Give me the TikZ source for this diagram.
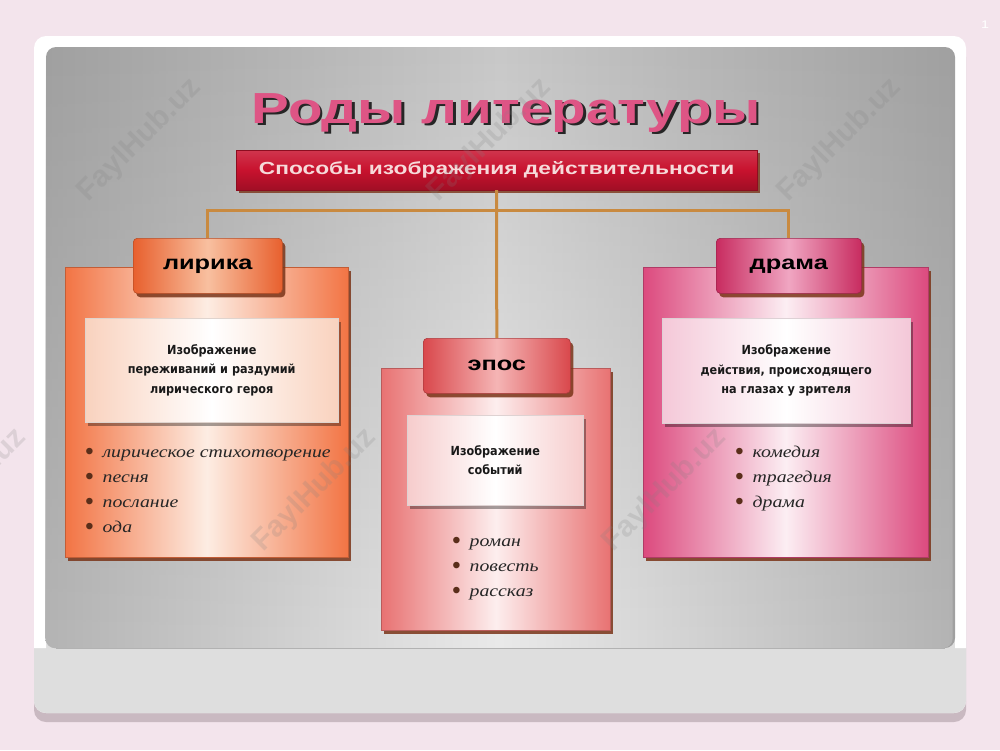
\documentclass[tikz,border=0pt]{standalone}
\usepackage{fontspec}
\setmainfont[FakeStretch=1.2]{Liberation Serif}
\setsansfont[FakeStretch=1.3]{Liberation Sans}
\newfontfamily\boxfont{Liberation Sans}
\newfontfamily\heavyfont{DejaVu Sans Condensed}
\usetikzlibrary{shadows,fadings}

\definecolor{pagebg}{HTML}{F3E4EC}
\definecolor{cardlow}{HTML}{DEDEDE}
\definecolor{cardshade}{HTML}{C9B9C1}
\definecolor{grayedge}{HTML}{A0A0A0}
\definecolor{graymid}{HTML}{C8C8C8}
\definecolor{grayedgelow}{HTML}{B4B4B4}
\definecolor{graymidlow}{HTML}{EAEAEA}
\definecolor{titlecol}{HTML}{DE5585}
\definecolor{bannercol}{HTML}{C8122E}
\definecolor{bannertext}{HTML}{F6DADA}
\definecolor{linkcol}{HTML}{C98A40}
\definecolor{boxshade}{HTML}{7A3418}
\definecolor{bulletcol}{HTML}{5A2E1A}
\definecolor{lircol}{HTML}{F27444}
\definecolor{lirmid}{HTML}{FDEDE3}
\definecolor{liredge}{HTML}{E8602E}
\definecolor{lirtabmid}{HTML}{F8C0A0}
\definecolor{lirin}{HTML}{F9D2BE}
\definecolor{eposcol}{HTML}{E87272}
\definecolor{eposmid}{HTML}{FDEEEE}
\definecolor{eposedge}{HTML}{D9484C}
\definecolor{epostabmid}{HTML}{F5B5B5}
\definecolor{eposin}{HTML}{F6CCCC}
\definecolor{dramcol}{HTML}{DC4A7E}
\definecolor{drammid}{HTML}{FCEEF3}
\definecolor{dramedge}{HTML}{C82C60}
\definecolor{dramtabmid}{HTML}{F0A6C2}
\definecolor{dramin}{HTML}{F4C8D8}

\newcommand\itembul{\raisebox{-2.5pt}{\textcolor{bulletcol}{\boxfont\fontsize{24}{20}\selectfont\textbullet}}\hspace{9pt}}

\tikzset{x=1pt, y=-1pt}
\tikzset{
 link/.style={draw=linkcol, line width=3pt},
 panel/.style n args={2}{anchor=north west, inner sep=0pt, draw=#1!80!black, line width=0.6pt,
   left color=#1, right color=#1, middle color=#2,
   drop shadow={shadow xshift=3pt, shadow yshift=-4pt, fill=boxshade, opacity=0.85}},
 tabbox/.style n args={2}{anchor=north west, inner sep=0pt, rounded corners=4pt,
   draw=#1!80!black, line width=0.6pt, left color=#1, right color=#1, middle color=#2,
   minimum height=55pt, font=\sffamily\bfseries\fontsize{19.5}{24}\selectfont,
   drop shadow={shadow xshift=3pt, shadow yshift=-4pt, fill=boxshade, opacity=0.85}},
 innerbox/.style={anchor=north west, inner sep=0pt, draw=#1!70!black!40, line width=0.5pt,
   left color=#1, right color=#1, middle color=white, align=center, text=black!90,
   font=\heavyfont\bfseries\fontsize{12.5}{19.5}\selectfont,
   drop shadow={shadow xshift=3pt, shadow yshift=-4pt, fill=black, opacity=0.35}},
 item/.style={anchor=base west, inner sep=0pt, font=\itshape\fontsize{16.5}{20}\selectfont,
   text=black!85},
 wmark/.style={rotate=45, text=gray, opacity=0.2, font=\boxfont\bfseries\fontsize{30}{30}\selectfont}
}

\begin{document}
\begin{tikzpicture}
\useasboundingbox (0,0) rectangle (1000,750);
% slide background and card
\fill[pagebg] (0,0) rectangle (1000,750);
\fill[cardshade, rounded corners=12pt] (34,45) rectangle (966,722);
\fill[white, rounded corners=12pt] (34,36) rectangle (966,713);
\fill[cardlow, rounded corners=12pt] (34,600) rectangle (966,713);
\fill[cardlow] (34,600) rectangle (966,640);
\fill[white] (34,600) rectangle (46,648) (955,600) rectangle (966,648);
\shade[left color=grayedge, right color=grayedge, middle color=graymid, rounded corners=10pt]
 (46,47) rectangle (955,648);
\shade[left color=grayedgelow, right color=grayedgelow, middle color=graymidlow,
 rounded corners=10pt, path fading=north] (46,47) rectangle (955,648);
\draw[gray!60, line width=0.6pt] (56,648) -- (945,648);
\node[text=white, font=\sffamily\fontsize{11}{11}\selectfont] (slideno) at (985,25) {1};

% title
\node[anchor=base, text=black!85, font=\sffamily\bfseries\fontsize{43.5}{48}\selectfont]
 (titleshade) at (508.5,125.5) {Роды литературы};
\node[anchor=base, text=titlecol, font=\sffamily\bfseries\fontsize{43.5}{48}\selectfont]
 (title) at (506,123) {Роды литературы};

% banner
\node[top color=bannercol!85!white, bottom color=bannercol!80!black, middle color=bannercol,
 draw=bannercol!70!black, minimum width=521pt, minimum height=40pt, inner sep=0pt,
 text=bannertext, font=\sffamily\bfseries\fontsize{17.5}{20}\selectfont,
 drop shadow={shadow xshift=3pt, shadow yshift=-3pt, fill=boxshade, opacity=0.8}]
 (banner) at (496.5,170) {Способы изображения действительности};

% three panels
\node[panel={lircol}{lirmid}, minimum width=283pt, minimum height=290pt] (lirbox) at (65,267) {};
\node[panel={eposcol}{eposmid}, minimum width=229pt, minimum height=262pt] (eposbox) at (381,368) {};
\node[panel={dramcol}{drammid}, minimum width=285pt, minimum height=290pt] (drambox) at (643,267) {};

\node[tabbox={liredge}{lirtabmid}, minimum width=149pt] (lirtab) at (133,238) {лирика};
\node[tabbox={eposedge}{epostabmid}, minimum width=147pt] (epostab) at (423,338) {эпос};
\node[tabbox={dramedge}{dramtabmid}, minimum width=145pt] (dramtab) at (716,238) {драма};

\node[innerbox=lirin, minimum width=253pt, minimum height=104pt] (lirin) at (85,318)
 {Изображение\\переживаний и раздумий\\лирического героя};
\node[innerbox=eposin, minimum width=176pt, minimum height=90pt] (eposin) at (407,415)
 {Изображение\\событий};
\node[innerbox=dramin, minimum width=248pt, minimum height=105pt] (dramin) at (662,318)
 {Изображение\\действия, происходящего\\на глазах у зрителя};

% connectors
\coordinate (hub) at (496.5,210);
\draw[link] (banner.south) -- (epostab.north);
\draw[link] (lirtab.north) |- (hub) -| (dramtab.north);

% lists
\foreach \txt [count=\i] in {лирическое стихотворение, песня, послание, ода}
 \node[item] (liritem\i) at (85,{432+25*\i}) {\itembul\txt};
\foreach \txt [count=\i] in {роман, повесть, рассказ}
 \node[item] (epositem\i) at (452,{521+25*\i}) {\itembul\txt};
\foreach \txt [count=\i] in {комедия, трагедия, драма}
 \node[item] (dramitem\i) at (735,{432+25*\i}) {\itembul\txt};

% watermarks
\foreach \wx/\wy [count=\k] in {140/140, 490/140, 840/140, -35/490, 315/490, 665/490}
 \node[wmark] (wm\k) at (\wx,\wy) {FaylHub.uz};
\end{tikzpicture}
\end{document}
